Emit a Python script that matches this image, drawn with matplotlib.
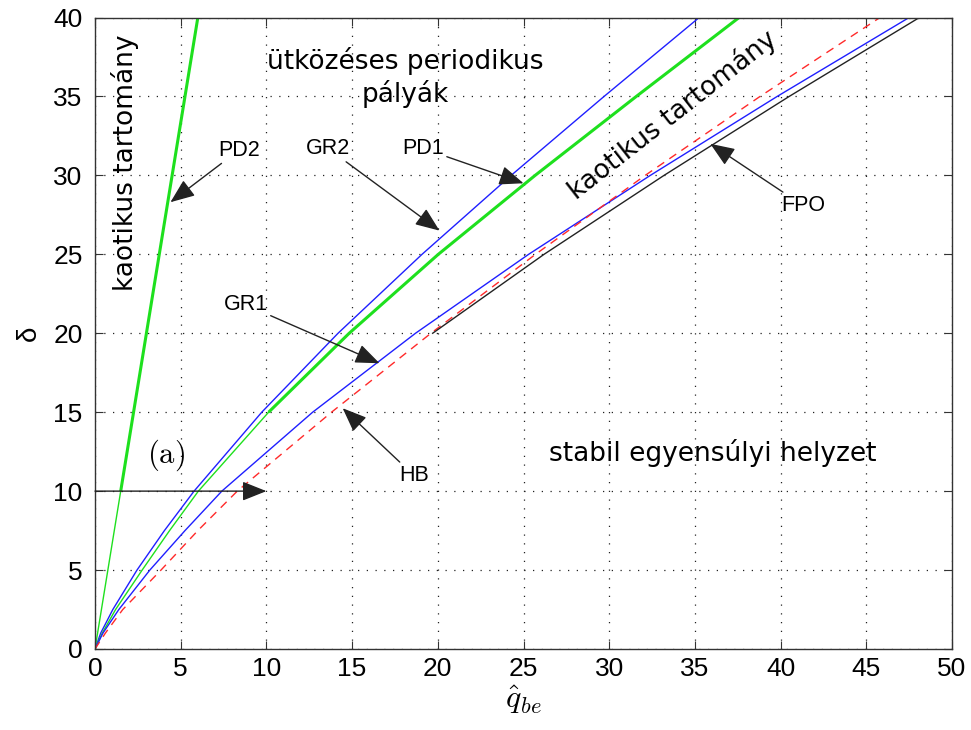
import matplotlib
matplotlib.use("Agg")
import matplotlib.pyplot as plt

plt.rcParams['mathtext.fontset'] = 'cm'

# ---------------- data ----------------
delta_grid = [0, 1, 2.5, 5, 7.5, 10, 15, 20, 25, 30, 35, 40]
gr2_q = [0, 0.33, 1.04, 2.45, 4.05, 5.78, 9.73, 14.18, 19.08, 24.28, 29.7, 35.25]
pd1_q = [0, 0.42, 1.2, 2.75, 4.35, 6.03, 10.13, 14.83, 20.03, 25.68, 31.58, 37.58]
gr1_q = [0, 0.46, 1.39, 3.2, 5.25, 7.4, 12.7, 18.7, 25.3, 32.4, 39.8, 47.5]
hb_q = [0, 0.6, 1.62, 3.85, 6.0, 8.3, 13.8, 19.6, 25.7, 32.1, 38.8, 45.8]

fpo_delta = [20, 25, 30, 35, 40]
fpo_q = [19.7, 26.2, 33.2, 40.5, 48.1]

pd2_delta = [0, 10, 40]
pd2_q = [0, 1.5, 6.0]

pd1_thick_from = 15   # delta where PD1 becomes thick
pd2_thick_from = 10   # delta where PD2 becomes thick

x_ticks = [0, 5, 10, 15, 20, 25, 30, 35, 40, 45, 50]
y_ticks = [0, 5, 10, 15, 20, 25, 30, 35, 40]

labels = ["PD2", "GR2", "PD1", "GR1", "HB", "FPO"]
label_pos = [(8.4, 31.6), (13.6, 31.7), (19.15, 31.7), (8.8, 21.8), (18.6, 11.0), (41.3, 28.1)]
label_tip = [(4.4, 28.3), (20.1, 26.5), (25.0, 29.5), (16.6, 18.1), (14.45, 15.25), (35.9, 32.0)]

# ---------------- styling ----------------
BLUE = '#1f1fff'
GREEN = '#1ee01e'
RED = '#ff2a2a'
BLACK = '#222222'

fig = plt.figure(figsize=(9.71, 7.3), dpi=100)
ax = fig.add_axes([95 / 971, 1 - 649 / 730, (952 - 95) / 971, (649 - 17.5) / 730])

# PD2
i2 = pd2_delta.index(pd2_thick_from)
ax.plot(pd2_q[:i2 + 1], pd2_delta[:i2 + 1], color=GREEN, lw=1.0)
ax.plot(pd2_q[i2:], pd2_delta[i2:], color=GREEN, lw=2.2, solid_capstyle='butt')

# GR2
ax.plot(gr2_q, delta_grid, color=BLUE, lw=1.0)

# PD1
i1 = delta_grid.index(pd1_thick_from)
ax.plot(pd1_q[:i1 + 1], delta_grid[:i1 + 1], color=GREEN, lw=1.0)
ax.plot(pd1_q[i1:], delta_grid[i1:], color=GREEN, lw=2.2, solid_capstyle='butt')

# GR1
ax.plot(gr1_q, delta_grid, color=BLUE, lw=1.0)

# HB
ax.plot(hb_q, delta_grid, color=RED, lw=1.0, linestyle=(0, (6, 4.5)))

# FPO
ax.plot(fpo_q, fpo_delta, color=BLACK, lw=1.0)

ax.set_xlim(0, 50)
ax.set_ylim(0, 40)
ax.set_xticks(x_ticks)
ax.set_yticks(y_ticks)

tick_font = dict(family=['Liberation Sans', 'DejaVu Sans'], size=19)
ax.set_xticklabels([str(v) for v in x_ticks], **tick_font)
ax.set_yticklabels([str(v) for v in y_ticks], **tick_font)
ax.tick_params(direction='in', length=6, width=0.8, top=True, right=True, color='#333333')
ax.tick_params(axis='x', pad=6)
ax.tick_params(axis='y', pad=9)

ax.grid(True, color='#222222', linestyle=(0, (1, 6)), lw=0.9)
for sp in ax.spines.values():
    sp.set_linewidth(1.0)
    sp.set_color('#333333')

ax.set_xlabel(r'$\hat{q}_{be}$', fontsize=23, labelpad=1)
ax.set_ylabel('δ', fontsize=20, family=['Liberation Sans', 'DejaVu Sans'], labelpad=8)

# arrows with labels
arrow_style = dict(arrowstyle='-|>,head_length=0.75,head_width=0.3', color=BLACK,
                   lw=1.0, mutation_scale=20, shrinkA=0, shrinkB=0)
for txt, pos, tip in zip(labels, label_pos, label_tip):
    ax.annotate(txt, xy=tip, xytext=pos, ha='center', va='center',
                fontsize=15.5, family=['Liberation Sans', 'DejaVu Sans'],
                arrowprops=arrow_style)

# horizontal arrow at delta = 10
ax.annotate('', xy=(10, 10), xytext=(0, 10), arrowprops=arrow_style)

# region texts
region_font = dict(family=['DejaVu Sans'], fontsize=19, color='black')
ax.text(18.1, 36.2, 'ütközéses periodikus\npályák', ha='center', va='center',
        multialignment='center', linespacing=1.25, **region_font)
ax.text(1.75, 30.8, 'kaotikus tartomány', rotation=90, ha='center', va='center', **region_font)
ax.text(33.7, 33.8, 'kaotikus tartomány', rotation=38, ha='center', va='center',
        rotation_mode='anchor', **region_font)
ax.text(36.05, 12.4, 'stabil egyensúlyi helyzet', ha='center', va='center', **region_font)
ax.text(4.15, 12.3, r'$\mathrm{(a)}$', ha='center', va='center', fontsize=22)

fig.savefig('out.png', dpi=100)
